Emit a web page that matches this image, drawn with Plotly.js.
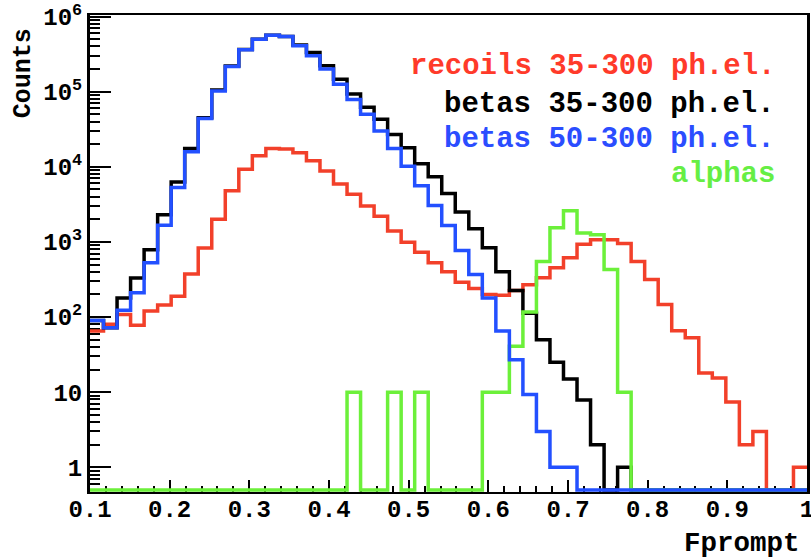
<!DOCTYPE html>
<html>
<head>
<meta charset="utf-8">
<script src="https://cdn.plot.ly/plotly-3.0.1.min.js"></script>
<style>
  html, body { margin: 0; padding: 0; background: #fff; }
  #chart { width: 811px; height: 559px; }
</style>
</head>
<body>
<div id="chart"></div>
<script>
// Histogram binning (Fprompt axis)
const binLow = 0.1;
const binHigh = 1.0;
const nBins = 53;

// Bin contents (counts per bin)
const recoils = [65, 80, 108, 78, 120, 145, 190, 375, 830, 2000, 4800, 9300, 14000, 17600, 17300, 15400, 12000, 8800, 5900, 4300, 3000, 2200, 1400, 990, 730, 530, 400, 290, 240, 200, 195, 225, 270, 334, 452, 617, 930, 1070, 1070, 950, 550, 316, 147, 66, 53, 18, 15.5, 7.4, 2, 3, 0, 0, 1];
const betas35 = [90, 72, 180, 330, 790, 2300, 6300, 17500, 45000, 105000, 220000, 365000, 500000, 566000, 545000, 420000, 333000, 221000, 147000, 93000, 62000, 43000, 27000, 18000, 11000, 7400, 4400, 2500, 1500, 840, 400, 225, 112, 50, 25, 15, 7.9, 2, 0, 1, 0, 0, 0, 0, 0, 0, 0, 0, 0, 0, 0, 0, 0];
const betas50 = [90, 72, 123, 210, 530, 1670, 5300, 15900, 44000, 102000, 217000, 363000, 500000, 566000, 541000, 408000, 300000, 200000, 126000, 79000, 50000, 30000, 17500, 10200, 5600, 3050, 1650, 770, 370, 180, 65, 27, 9.3, 3, 1, 1, 0, 0, 0, 0, 0, 0, 0, 0, 0, 0, 0, 0, 0, 0, 0, 0, 0];
const alphas = [0, 0, 0, 0, 0, 0, 0, 0, 0, 0, 0, 0, 0, 0, 0, 0, 0, 0, 0, 10, 0, 0, 10, 0, 10, 0, 0, 0, 0, 10, 10, 41, 117, 550, 1550, 2600, 1320, 1250, 430, 10, 0, 0, 0, 0, 0, 0, 0, 0, 0, 0, 0, 0, 0];

// Legend / labels
const seriesNames = ['recoils 35-300 ph.el.', 'betas 35-300 ph.el.', 'betas 50-300 ph.el.', 'alphas'];
const seriesColors = ['#f2402a', '#000000', '#2350ff', '#6cf03a'];
const legendColors = ['#ff3a2a', '#000000', '#2b4dff', '#66ee44'];
const xTickVals = [0.1, 0.2, 0.3, 0.4, 0.5, 0.6, 0.7, 0.8, 0.9, 1.0];
const xTickText = ['0.1', '0.2', '0.3', '0.4', '0.5', '0.6', '0.7', '0.8', '0.9', '1'];
const yTickVals = [1, 10, 100, 1000, 10000, 100000, 1000000];
const yTickText = ['1', '10', '10<sup>2</sup>', '10<sup>3</sup>', '10<sup>4</sup>', '10<sup>5</sup>', '10<sup>6</sup>'];
const xTitle = 'Fprompt';
const yTitle = 'Counts';

// log-axis floor where empty bins are drawn (ROOT style)
const emptyLevel = 0.5;
const yMinLog = -0.3286, yMaxLog = 6.021;

const edges = [];
for (let k = 0; k <= nBins; k++) edges.push(binLow + (binHigh - binLow) * k / nBins);

function histTrace(vals, color) {
  const y = vals.map(v => (v > 0 ? v : emptyLevel));
  y.push(y[y.length - 1]);
  return {
    type: 'scatter', mode: 'lines', x: edges, y: y,
    line: {shape: 'hv', color: color, width: 3.5},
    hoverinfo: 'skip'
  };
}

const traces = [
  histTrace(recoils, seriesColors[0]),
  histTrace(betas35, seriesColors[1]),
  histTrace(alphas, seriesColors[3]),
  histTrace(betas50, seriesColors[2])
];

const xMinor = [];
for (let i = 0; i < 46; i++) {
  const v = Math.round((0.1 + 0.02 * i) * 1000) / 1000;
  if (Math.round(v * 100) % 10 !== 0) xMinor.push(v);
}
const yMinor = [];
for (let d = -1; d <= 5; d++) {
  for (let m = 2; m <= 9; m++) yMinor.push(m * Math.pow(10, d));
}

const fontFam = '"Liberation Mono", "Courier New", monospace';
const annotations = [];
const legendY = [0.893, 0.812, 0.738, 0.666];
seriesNames.forEach((name, i) => {
  annotations.push({
    xref: 'paper', yref: 'paper', x: 0.958, y: legendY[i],
    xanchor: 'right', yanchor: 'middle', showarrow: false,
    text: name,
    font: {family: fontFam, size: 29, color: legendColors[i], weight: 'bold'}
  });
});
annotations.push({
  xref: 'paper', yref: 'paper', x: 0.993, y: -0.108,
  xanchor: 'right', yanchor: 'middle', showarrow: false,
  text: xTitle, font: {family: fontFam, size: 27.5, color: '#000', weight: 'bold'}
});
annotations.push({
  xref: 'paper', yref: 'paper', x: -0.0934, y: 0.878,
  xanchor: 'center', yanchor: 'middle', showarrow: false, textangle: -90,
  text: yTitle, font: {family: fontFam, size: 25, color: '#000', weight: 'bold'}
});

const layout = {
  width: 811, height: 559,
  margin: {l: 90, r: 4, t: 15, b: 67, pad: 0},
  paper_bgcolor: '#ffffff', plot_bgcolor: '#ffffff',
  showlegend: false,
  font: {family: fontFam, size: 24, color: '#000', weight: 'bold'},
  xaxis: {
    range: [binLow, binHigh], showgrid: false, zeroline: false,
    showline: true, mirror: true, linecolor: '#000', linewidth: 2,
    tickmode: 'array', tickvals: xTickVals, ticktext: xTickText,
    ticks: 'inside', ticklen: 12, tickwidth: 2, tickcolor: '#000',
    ticklabeloverflow: 'allow', ticklabelstandoff: -6,
    tickfont: {family: fontFam, size: 24, color: '#000', weight: 'bold'},
    minor: {tickmode: 'array', tickvals: xMinor, ticks: 'inside', ticklen: 6, tickwidth: 2, tickcolor: '#000', showgrid: false},
    layer: 'below traces'
  },
  yaxis: {
    type: 'log', range: [yMinLog, yMaxLog], showgrid: false, zeroline: false,
    showline: true, mirror: true, linecolor: '#000', linewidth: 3,
    tickmode: 'array', tickvals: yTickVals, ticktext: yTickText,
    ticks: 'inside', ticklen: 21, tickwidth: 2, tickcolor: '#000',
    tickfont: {family: fontFam, size: 24, color: '#000', weight: 'bold'},
    minor: {tickmode: 'array', tickvals: yMinor, ticks: 'inside', ticklen: 10, tickwidth: 2, tickcolor: '#000', showgrid: false},
    layer: 'below traces'
  },
  annotations: annotations
};

Plotly.newPlot('chart', traces, layout, {staticPlot: true, displayModeBar: false});
</script>
</body>
</html>
